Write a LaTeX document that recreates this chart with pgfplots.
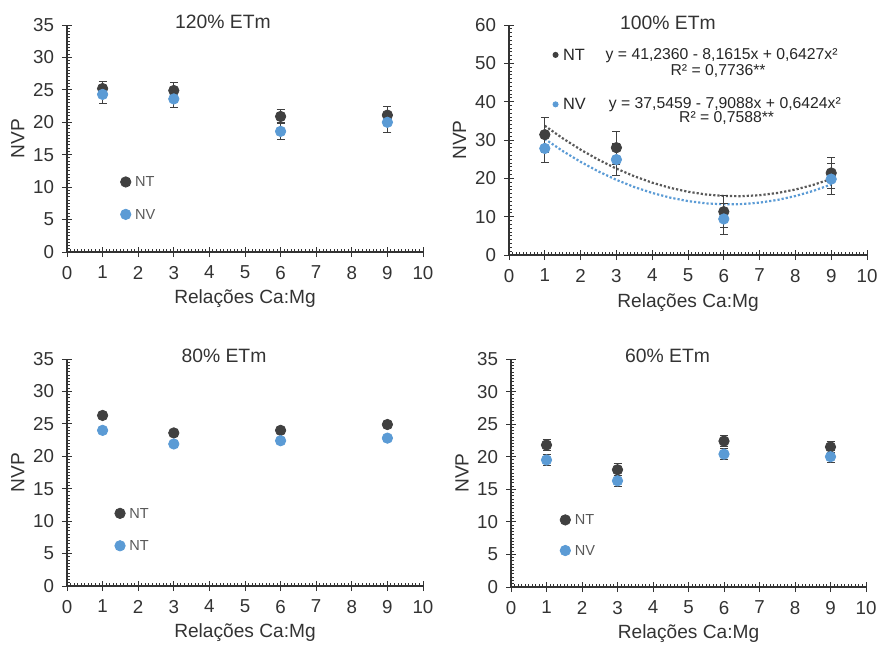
\documentclass[border=0pt]{standalone}
\usepackage{fontspec}
\setmainfont{Liberation Sans}
\usepackage{pgfplots}
\pgfplotsset{compat=1.18}

\definecolor{ntc}{HTML}{404040}
\definecolor{nvc}{HTML}{5B9BD5}
\definecolor{txt}{HTML}{333333}
\definecolor{lgt}{HTML}{595959}

\tikzset{ttl/.style={font=\fontsize{9.7}{11}\selectfont, text=txt}}

\pgfplotsset{
  panel/.style={
    scale only axis, clip=false,
    /pgf/number format/assume math mode=true,
    axis lines=left,
    axis line style={-, black!80, line width=0.6bp},
    xmin=0, xmax=10, xtick={0,...,10}, minor x tick num=9,
    ymin=0, minor y tick num=9,
    tick align=inside, major tick length=5bp, minor tick length=1.6bp,
    major x tick style={yshift=-2.5bp}, major y tick style={xshift=-2.5bp},
    tick style={black!80, line width=0.5bp},
    ticklabel style={font=\fontsize{9.4}{11}\selectfont, text=txt},
    xticklabel style={yshift=-3.5bp},
    yticklabel style={xshift=-3bp},
    xlabel={Relações Ca:Mg}, ylabel={NVP},
    label style={font=\fontsize{9.6}{11}\selectfont, text=txt},
    xlabel style={at={(axis description cs:0.5,-0.205)}, anchor=center},
    ylabel style={at={(axis description cs:-0.138,0.5)}, anchor=center},
  },
  dots/.style={only marks, mark=*, mark size=2.6bp, #1,
    error bars/.cd, y dir=both, y explicit,
    error bar style={color=ntc, line width=0.5bp},
    error mark options={rotate=90, mark size=2bp, line width=0.5bp}},
  key/.style 2 args={only marks, mark=*, mark size=2.6bp, #1,
    nodes near coords={#2},
    nodes near coords style={anchor=west, xshift=1.2bp,
      font=\fontsize{7.3}{9}\selectfont, text=lgt}},
  smallkey/.style 2 args={only marks, mark=*, mark size=1.3bp, #1,
    nodes near coords={#2},
    nodes near coords style={anchor=west, xshift=0.3bp,
      font=\fontsize{8.2}{10}\selectfont, text=black!85}},
}

\begin{document}
\begin{tikzpicture}
\useasboundingbox (0,0) rectangle (439.5bp,-323bp);

% 120% ETm
\begin{axis}[panel, at={(33.5bp,-126bp)}, anchor=south west,
  width=178bp, height=113.5bp, ymax=35, ytick={0,5,...,35}]
\addplot[dots=ntc] coordinates {
  (1,25.2) +- (0,1.1) (3,24.9) +- (0,1.2) (6,20.9) +- (0,1.1) (9,21.1) +- (0,1.4)};
\addplot[dots=nvc] coordinates {
  (1,24.3) +- (0,1.4) (3,23.6) +- (0,1.3) (6,18.6) +- (0,1.3) (9,20.0) +- (0,1.5)};
\addplot[key={ntc}{NT}] coordinates {(1.65,10.8)};
\addplot[key={nvc}{NV}] coordinates {(1.65,5.8)};
\node[ttl] at (axis cs:4.38,35.5) {120\% ETm};
\end{axis}

% 100% ETm
\begin{axis}[panel, at={(254.5bp,-127.5bp)}, anchor=south west,
  width=179bp, height=115bp, ymax=60, ytick={0,10,...,60}]
\addplot[lgt, densely dotted, line width=1.1bp] coordinates {
  (1,33.72)(1.5,30.44)(2,27.48)(2.5,24.85)(3,22.54)(3.5,20.54)(4,18.87)
  (4.5,17.52)(5,16.50)(5.5,15.79)(6,15.40)(6.5,15.34)(7,15.60)(7.5,16.18)
  (8,17.08)(8.5,18.30)(9,19.84)};
\addplot[nvc, densely dotted, line width=1.1bp] coordinates {
  (1,30.28)(1.5,27.13)(2,24.30)(2.5,21.79)(3,19.60)(3.5,17.73)(4,16.19)
  (4.5,14.97)(5,14.06)(5.5,13.48)(6,13.22)(6.5,13.28)(7,13.66)(7.5,14.37)
  (8,15.39)(8.5,16.73)(9,18.40)};
\addplot[dots=ntc] coordinates {
  (1,31.4) +- (0,4.6) (3,28.0) +- (0,4.3) (6,11.3) +- (0,4.2) (9,21.4) +- (0,4.1)};
\addplot[dots=nvc] coordinates {
  (1,27.8) +- (0,3.7) (3,24.9) +- (0,4.2) (6,9.4) +- (0,4.0) (9,19.8) +- (0,4.0)};
\addplot[smallkey={ntc}{NT}] coordinates {(1.3,52.2)};
\addplot[smallkey={nvc}{NV}] coordinates {(1.3,39.3)};
\begin{scope}[every node/.style={font=\fontsize{7.9}{9}\selectfont, text=black!85}]
\node at (axis cs:5.94,51.9) {y = 41,2360 - 8,1615x + 0,6427x²};
\node at (axis cs:5.84,48.0) {R² = 0,7736**};
\node at (axis cs:6.03,39.1) {y = 37,5459 - 7,9088x + 0,6424x²};
\node at (axis cs:6.08,35.7) {R² = 0,7588**};
\end{scope}
\node[ttl] at (axis cs:4.44,60.6) {100\% ETm};
\end{axis}

% 80% ETm
\begin{axis}[panel, at={(33.5bp,-293bp)}, anchor=south west,
  width=178bp, height=113.5bp, ymax=35, ytick={0,5,...,35}]
\addplot[dots=ntc] coordinates {
  (1,26.3) +- (0,0.4) (3,23.6) +- (0,0.5) (6,24.0) +- (0,0.5) (9,24.9) +- (0,0.5)};
\addplot[dots=nvc] coordinates {
  (1,24.0) +- (0,0.3) (3,21.9) +- (0,0.3) (6,22.4) +- (0,0.3) (9,22.8) +- (0,0.3)};
\addplot[key={ntc}{NT}] coordinates {(1.49,11.2)};
\addplot[key={nvc}{NT}] coordinates {(1.49,6.2)};
\node[ttl] at (axis cs:4.41,35.5) {80\% ETm};
\end{axis}

% 60% ETm
\begin{axis}[panel, at={(255.5bp,-293.5bp)}, anchor=south west,
  width=177.5bp, height=114bp, ymax=35, ytick={0,5,...,35}]
\addplot[dots=ntc] coordinates {
  (1,21.8) +- (0,0.9) (3,18.0) +- (0,0.9) (6,22.4) +- (0,0.8) (9,21.5) +- (0,0.9)};
\addplot[dots=nvc] coordinates {
  (1,19.5) +- (0,0.9) (3,16.3) +- (0,0.8) (6,20.4) +- (0,0.9) (9,20.0) +- (0,0.9)};
\addplot[key={ntc}{NT}] coordinates {(1.53,10.3)};
\addplot[key={nvc}{NV}] coordinates {(1.53,5.6)};
\node[ttl] at (axis cs:4.41,35.5) {60\% ETm};
\end{axis}
\end{tikzpicture}
\end{document}
